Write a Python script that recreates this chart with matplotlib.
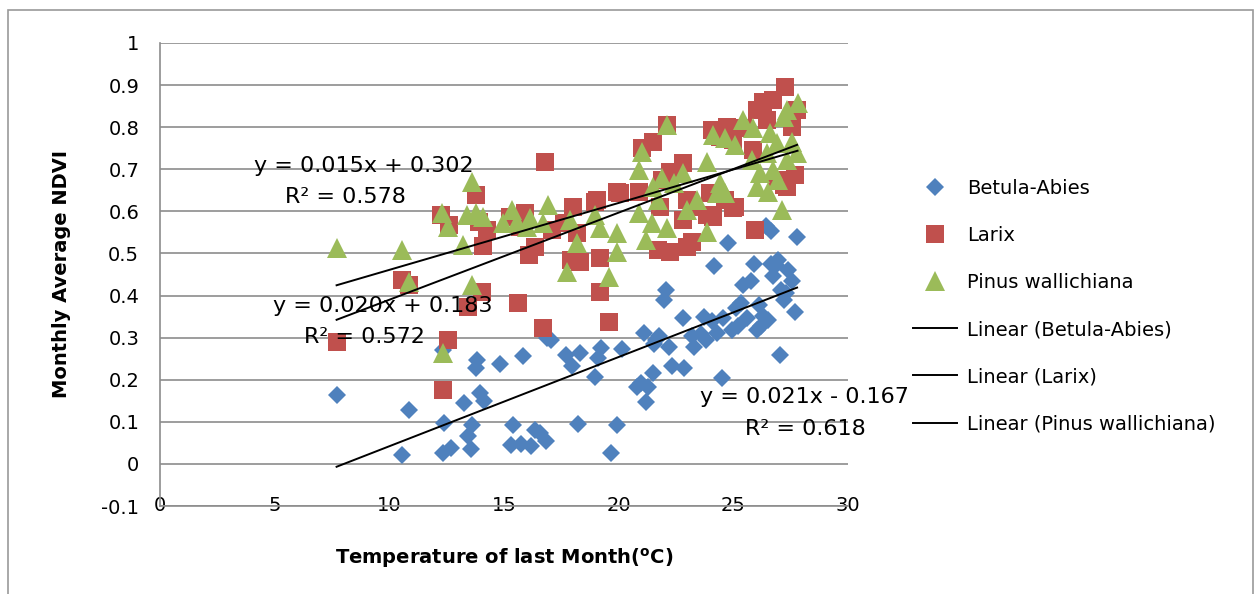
import numpy as np
import matplotlib
matplotlib.use("Agg")
import matplotlib.pyplot as plt
from matplotlib.lines import Line2D
from matplotlib.patches import Rectangle

plt.rcParams['font.family'] = ['DejaVu Sans']

# Betula-Abies
betula_x = [7.7, 10.55, 10.86, 12.34, 12.38, 12.69, 12.34, 13.26, 13.43, 13.6, 13.56, 13.82, 13.78,
            13.96, 14.13, 14.83, 15.3, 15.4, 15.74, 15.83, 16.18, 16.35, 16.57, 16.83, 16.88, 17.05,
            17.7, 17.97, 18.23, 18.32, 18.97, 19.1, 19.23, 19.67, 19.93, 20.15, 20.8, 20.98, 21.1,
            21.2, 21.28, 21.5, 21.54, 21.63, 21.76, 21.98, 22.07, 22.2, 22.33, 22.8, 22.85, 23.2,
            23.29, 23.6, 23.72, 23.81, 24.07, 24.16, 24.29, 24.51, 24.55, 24.77, 24.95, 25.12, 25.2,
            25.34, 25.42, 25.6, 25.77, 25.9, 26.04, 26.12, 26.2, 26.3, 26.43, 26.5, 26.65, 26.65,
            26.73, 26.87, 26.95, 27.04, 27.08, 27.2, 27.3, 27.4, 27.56, 27.7, 27.78]
betula_y = [0.164, 0.021, 0.128, 0.026, 0.097, 0.038, 0.27, 0.145, 0.067, 0.093, 0.036, 0.247, 0.228,
            0.169, 0.150, 0.237, 0.045, 0.093, 0.048, 0.257, 0.043, 0.081, 0.074, 0.055, 0.299, 0.295,
            0.259, 0.233, 0.095, 0.264, 0.207, 0.252, 0.276, 0.026, 0.093, 0.273, 0.183, 0.192, 0.311,
            0.147, 0.183, 0.216, 0.285, 0.295, 0.304, 0.39, 0.413, 0.278, 0.233, 0.347, 0.228, 0.304,
            0.278, 0.309, 0.349, 0.295, 0.34, 0.47, 0.311, 0.204, 0.347, 0.525, 0.318, 0.37, 0.328,
            0.382, 0.425, 0.347, 0.435, 0.475, 0.318, 0.378, 0.328, 0.352, 0.565, 0.342, 0.553, 0.475,
            0.447, 0.473, 0.485, 0.259, 0.413, 0.39, 0.406, 0.461, 0.435, 0.361, 0.539]

# Larix
larix_x = [7.7, 10.55, 10.86, 12.34, 12.56, 12.26, 12.6, 13.43, 13.8, 13.9, 14.04, 14.08, 14.26, 15.26,
           15.6, 15.7, 15.9, 16.1, 16.35, 16.7, 16.8, 17.1, 17.6, 17.9, 18.0, 18.2, 18.3, 18.97, 19.05,
           19.2, 19.2, 19.6, 19.93, 20.06, 20.9, 21.0, 21.5, 21.7, 21.8, 21.9, 22.1, 22.24, 22.24, 22.8,
           22.8, 23.0, 23.0, 23.2, 23.2, 23.85, 24.0, 24.07, 24.1, 24.42, 24.64, 24.73, 24.99, 25.0,
           25.08, 25.42, 25.86, 25.95, 26.04, 26.3, 26.47, 26.73, 26.9, 27.2, 27.26, 27.34, 27.56,
           27.7, 27.78]
larix_y = [0.29, 0.437, 0.425, 0.176, 0.295, 0.591, 0.568, 0.373, 0.639, 0.575, 0.409, 0.518, 0.556,
           0.587, 0.382, 0.563, 0.596, 0.496, 0.515, 0.323, 0.717, 0.556, 0.572, 0.485, 0.61, 0.549,
           0.48, 0.622, 0.627, 0.49, 0.409, 0.337, 0.646, 0.644, 0.646, 0.751, 0.765, 0.508, 0.61,
           0.675, 0.805, 0.694, 0.504, 0.715, 0.58, 0.627, 0.516, 0.527, 0.61, 0.591, 0.644, 0.793,
           0.587, 0.777, 0.627, 0.8, 0.77, 0.608, 0.61, 0.798, 0.746, 0.556, 0.841, 0.86, 0.817,
           0.865, 0.675, 0.663, 0.895, 0.658, 0.8, 0.686, 0.841]

# Pinus wallichiana
pinus_x = [7.7, 10.55, 10.86, 12.34, 12.3, 12.56, 13.2, 13.4, 13.6, 13.6, 13.8, 14.08, 14.96, 15.35,
           15.57, 16.0, 16.13, 16.7, 16.92, 17.75, 17.88, 18.2, 18.97, 19.2, 19.6, 19.93, 19.93, 20.9,
           20.9, 21.0, 21.2, 21.45, 21.5, 21.7, 21.9, 22.1, 22.1, 22.4, 22.8, 23.0, 23.4, 23.85, 23.85,
           24.1, 24.3, 24.42, 24.64, 24.64, 25.08, 25.4, 25.82, 25.86, 26.04, 26.17, 26.47, 26.5,
           26.6, 26.73, 26.9, 26.95, 27.13, 27.2, 27.34, 27.35, 27.56, 27.78, 27.8]
pinus_y = [0.513, 0.508, 0.432, 0.264, 0.596, 0.563, 0.52, 0.591, 0.67, 0.425, 0.596, 0.587, 0.572,
           0.603, 0.575, 0.563, 0.584, 0.572, 0.615, 0.456, 0.58, 0.525, 0.591, 0.56, 0.444, 0.549,
           0.504, 0.698, 0.596, 0.74, 0.532, 0.572, 0.658, 0.627, 0.679, 0.805, 0.56, 0.667, 0.691,
           0.603, 0.627, 0.717, 0.551, 0.781, 0.644, 0.667, 0.774, 0.644, 0.758, 0.817, 0.722, 0.798,
           0.658, 0.691, 0.739, 0.646, 0.786, 0.698, 0.762, 0.675, 0.603, 0.824, 0.722, 0.841, 0.765,
           0.739, 0.857]

series_names = ['Betula-Abies', 'Larix', 'Pinus wallichiana']
# trend lines as drawn in the picture (slope, intercept)
trend_slope = [0.0212, 0.0207, 0.0159]
trend_intercept = [-0.170, 0.183, 0.302]
trend_eq = ['y = 0.021x - 0.167', 'y = 0.020x + 0.183', 'y = 0.015x + 0.302']
trend_r2 = ['R² = 0.618', 'R² = 0.572', 'R² = 0.578']

y_ticks = [-0.1, 0, 0.1, 0.2, 0.3, 0.4, 0.5, 0.6, 0.7, 0.8, 0.9, 1]
y_tick_labels = ['-0.1', '0', '0.1', '0.2', '0.3', '0.4', '0.5', '0.6', '0.7', '0.8', '0.9', '1']
x_ticks = [0, 5, 10, 15, 20, 25, 30]

colors = ['#4F81BD', '#C0504D', '#9BBB59']
markers = ['D', 's', '^']
msizes = [9.5, 13, 14.5]
grid_col = '#8C8C8C'

W, H = 1259, 594
fig = plt.figure(figsize=(W / 100, H / 100), dpi=100)
ax = fig.add_axes([160 / W, 1 - 506 / H, (848 - 160) / W, (506 - 43) / H])

all_x = [betula_x, larix_x, pinus_x]
all_y = [betula_y, larix_y, pinus_y]

handles = []
for i in range(3):
    ax.plot(all_x[i], all_y[i], linestyle='none', marker=markers[i], markersize=msizes[i],
            color=colors[i], markeredgewidth=0, zorder=3 + i)
    handles.append(Line2D([], [], linestyle='none', marker=markers[i], markersize=msizes[i],
                          color=colors[i], markeredgewidth=0))

for i in range(3):
    xs = np.array([min(all_x[i]), max(all_x[i])])
    ax.plot(xs, trend_slope[i] * xs + trend_intercept[i], color='black', lw=1.4, zorder=10)
for i in range(3):
    handles.append(Line2D([], [], color='black', lw=1.4))

labels = series_names + ['Linear (' + n + ')' for n in series_names]

# equation labels
eq_pos = [(28.1, 0.159, 28.15, 0.083), (9.73, 0.375, 8.9, 0.302), (8.9, 0.708, 8.07, 0.634)]
for i in range(3):
    ex, ey, rx, ry = eq_pos[i]
    ax.text(ex, ey, trend_eq[i], fontsize=16, ha='center', va='center', clip_on=False, zorder=12)
    ax.text(rx, ry, trend_r2[i], fontsize=16, ha='center', va='center', clip_on=False, zorder=12)

ax.set_xlim(0, 30)
ax.set_ylim(-0.1, 1.0)
ax.set_xticks(x_ticks)
ax.set_yticks(y_ticks, y_tick_labels)
ax.yaxis.grid(True, color=grid_col, lw=1.2)
ax.set_axisbelow(True)
for s in ['top', 'right']:
    ax.spines[s].set_visible(False)
for s in ['left', 'bottom']:
    ax.spines[s].set_color(grid_col)
    ax.spines[s].set_linewidth(1.2)
ax.tick_params(axis='y', length=0, pad=15, labelsize=14)
ax.tick_params(axis='x', length=0, pad=-7, labelsize=14)

ax.set_xlabel('Temperature of last Month($^{\\mathbf{o}}$C)', fontsize=14, fontweight='bold', labelpad=22)
ax.set_ylabel('Monthly Average NDVI', fontsize=14, fontweight='bold', labelpad=22)

fig.legend(handles, labels, loc='center left', bbox_to_anchor=(903 / W, 1 - 306 / H),
           frameon=False, fontsize=14, borderpad=0, handlelength=2.3, handletextpad=0.5,
           labelspacing=1.45)

fig.patches.append(Rectangle((8 / W, -0.1), (1253 - 8) / W, 1.1 - 10 / H, transform=fig.transFigure,
                             fill=False, edgecolor='#9A9A9A', lw=1.2))

fig.savefig('out.png', dpi=100)
